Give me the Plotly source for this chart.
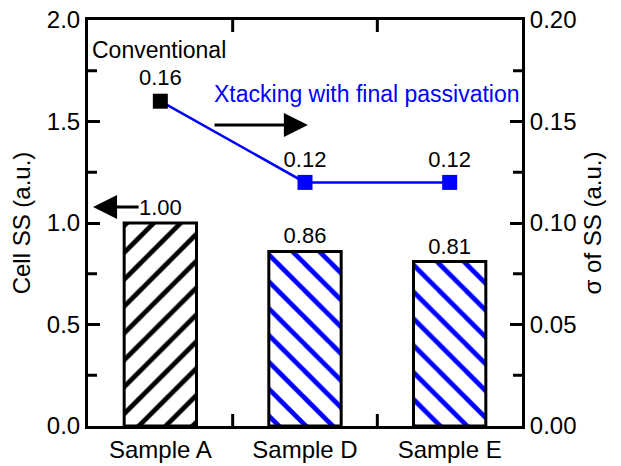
import plotly.graph_objects as go

categories = ["Sample A", "Sample D", "Sample E"]
cell_ss = [1.00, 0.86, 0.81]
sigma_ss = [0.16, 0.12, 0.12]
x_boundaries = [0.5, 1.5]
y_minor = [0.25, 0.75, 1.25, 1.75]
y2_minor = [0.025, 0.075, 0.125, 0.175]

FONT = "Liberation Sans, Arial, sans-serif"
BLUE = "#0000ff"
TS = 24

fig = go.Figure()

fig.add_trace(go.Bar(
    x=categories, y=cell_ss, width=0.5,
    marker=dict(
        color="white",
        line=dict(color="black", width=3),
        pattern=dict(shape=["/", "\\", "\\"], fgcolor=["black", BLUE, BLUE],
                     bgcolor="white", size=19, solidity=0.25, fillmode="replace"),
    ),
    texttemplate="%{y:.2f}", textposition="outside",
    textfont=dict(family=FONT, size=22, color="black"),
    cliponaxis=False, showlegend=False,
))

fig.add_trace(go.Scatter(
    x=categories, y=sigma_ss, yaxis="y2",
    mode="lines+markers+text",
    line=dict(color=BLUE, width=2.5),
    marker=dict(symbol="square", size=15, color=["black", BLUE, BLUE]),
    texttemplate="%{y:.2f}", textposition="top center",
    textfont=dict(family=FONT, size=22, color="black"),
    cliponaxis=False, showlegend=False,
))

# Page body keeps its default 8px margin; compensate so the plot area sits
# at x 88..522, y 20..426 of the 621x466 window.
W, H = 613, 458
PLOT_W, PLOT_H = 434, 406
major = dict(ticks="inside", ticklen=12, tickwidth=3, tickcolor="black")

shapes = []
for xb in x_boundaries:
    for y0, y1 in [(0, 12 / PLOT_H), (1, 1 - 12 / PLOT_H)]:
        shapes.append(dict(type="line", xref="x", yref="paper", x0=xb, x1=xb, y0=y0, y1=y1,
                           line=dict(color="black", width=3)))
for ym in y_minor:
    shapes.append(dict(type="line", xref="paper", yref="y", x0=0, x1=9 / PLOT_W, y0=ym, y1=ym,
                       line=dict(color="black", width=3)))
for ym in y2_minor:
    shapes.append(dict(type="line", xref="paper", yref="y2", x0=1, x1=1 - 9 / PLOT_W, y0=ym, y1=ym,
                       line=dict(color="black", width=3)))

fig.update_layout(
    template="none",
    width=W, height=H,
    margin=dict(l=80, r=99, t=12, b=40, autoexpand=False),
    paper_bgcolor="white", plot_bgcolor="white",
    font=dict(family=FONT, size=TS, color="black"),
    xaxis=dict(
        type="category", range=[-0.5, 2.5], automargin=False,
        showline=True, linecolor="black", linewidth=3, mirror=True,
        ticks="", tickfont=dict(size=TS), showgrid=False, zeroline=False,
    ),
    yaxis=dict(
        range=[0, 2.0], dtick=0.5, tickformat=".1f", automargin=False,
        ticklabeloverflow="allow",
        showline=True, linecolor="black", linewidth=3,
        tickfont=dict(size=TS), showgrid=False, zeroline=False,
        title=dict(text="Cell SS (a.u.)", font=dict(size=TS)), **major,
    ),
    yaxis2=dict(
        range=[0, 0.20], dtick=0.05, tickformat=".2f", automargin=False,
        ticklabeloverflow="allow",
        overlaying="y", side="right",
        showline=True, linecolor="black", linewidth=3,
        tickfont=dict(size=TS), showgrid=False, zeroline=False,
        title=dict(text="σ of SS (a.u.)", font=dict(size=TS)), **major,
    ),
    shapes=shapes,
    annotations=[
        dict(text="Conventional", xref="paper", yref="paper", x=0.005, y=0.926,
             xanchor="left", yanchor="middle", showarrow=False,
             font=dict(family=FONT, size=23, color="black")),
        dict(text="Xtacking with final passivation", xref="paper", yref="paper", x=1.0, y=0.818,
             xanchor="right", yanchor="middle", showarrow=False,
             font=dict(family=FONT, size=23, color=BLUE)),
        dict(text="", xref="x", yref="y", x=-0.465, y=1.079, ax=-0.14, ay=1.079,
             axref="x", ayref="y", showarrow=True, arrowhead=2, arrowsize=1.6,
             arrowwidth=3, arrowcolor="black"),
        dict(text="", xref="x", yref="y", x=1.02, y=1.483, ax=0.364, ay=1.483,
             axref="x", ayref="y", showarrow=True, arrowhead=2, arrowsize=1.6,
             arrowwidth=3, arrowcolor="black"),
    ],
)

fig.write_html("out.html")
